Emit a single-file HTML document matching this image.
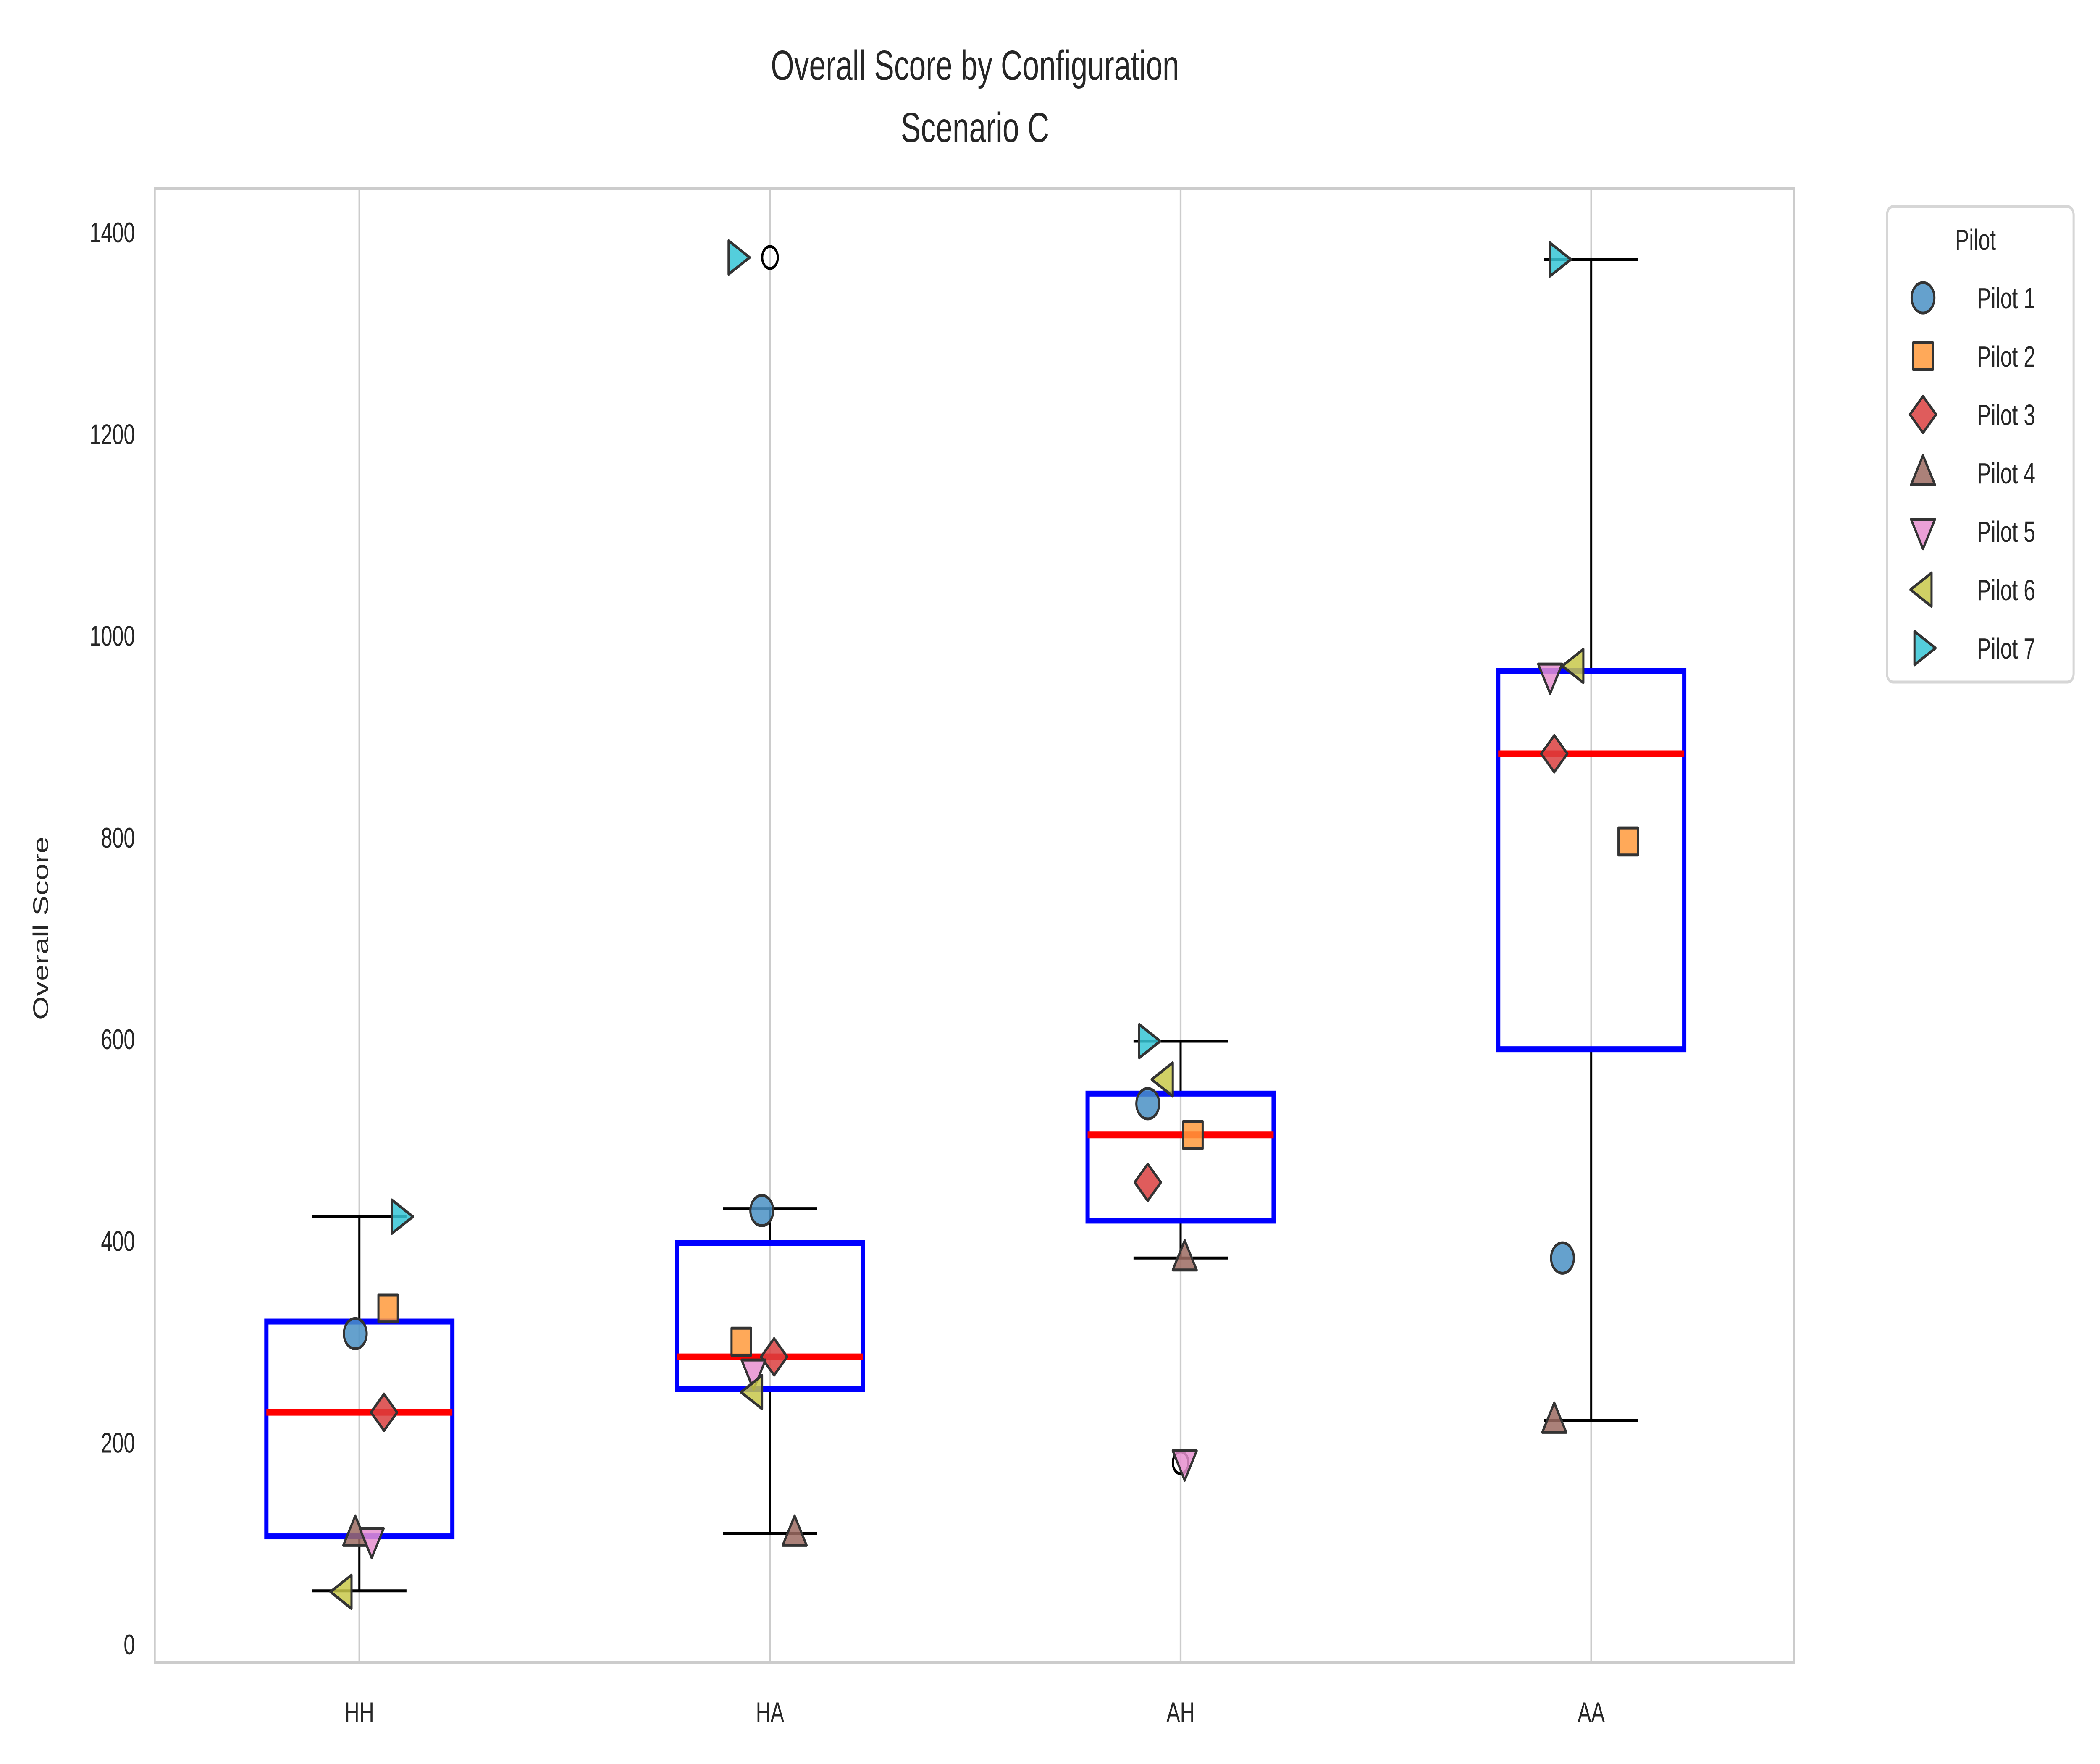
<!DOCTYPE html>
<html><head><meta charset="utf-8"><style>html,body{margin:0;padding:0;background:#fff;width:100%;height:100%;overflow:hidden}svg{display:block;width:100vw;height:100vh}text{font-family:"Liberation Sans",sans-serif;fill:#262626}</style></head>
<body>
<svg id="chart" viewBox="0 0 7000 4200" preserveAspectRatio="none" xmlns="http://www.w3.org/2000/svg">
<rect width="7000" height="4200" fill="#fff"/>
<text x="3250" y="190" font-size="100" text-anchor="middle">Overall Score by Configuration</text>
<text x="3250" y="338" font-size="100" text-anchor="middle">Scenario C</text>
<text transform="translate(160,2210) rotate(-90)" font-size="72" text-anchor="middle">Overall Score</text>
<g id="grid"></g><g id="boxes"></g><g id="points"></g><g id="axes"></g>
<g id="legend"></g>
</svg>
<script>
const categories = ["HH","HA","AH","AA"];
const whiskerLow = [53,110,383,222];
const q1 = [107,253,420,590];
const medians = [230,285,505,883];
const q3 = [320,398,546,965];
const whiskerHigh = [424,432,598,1373];
const outlierCat = [1,2];
const outlierVal = [1375,180];
const pilots = ["Pilot 1","Pilot 2","Pilot 3","Pilot 4","Pilot 5","Pilot 6","Pilot 7"];
// scores[pilot][category]
const scores = [
 [308,430,536,383],
 [333,300,505,796],
 [230,285,458,883],
 [110,110,383,222],
 [103,270,180,960],
 [52,250,560,970],
 [424,1375,598,1373]
];
// horizontal jitter in category units
const jitter = [
 [-0.01,-0.02,-0.08,-0.07],
 [0.07,-0.07,0.03,0.09],
 [0.06,0.01,-0.08,-0.09],
 [-0.01,0.06,0.01,-0.09],
 [0.03,-0.04,0.01,-0.1],
 [-0.04,-0.04,-0.04,-0.04],
 [0.1,-0.08,-0.08,-0.08]
];
const yTicks = [0,200,400,600,800,1000,1200,1400];
const colors = ["#4a90c4","#ff9a3c","#d94040","#9c6b61","#e68fcf","#c8c84a","#36c5d6"];
const shapes = ["circle","square","diamond","tri-up","tri-down","tri-left","tri-right"];

const L=516,R=5981,T=449,B=3958;
const y0px=3915, perUnit=(3915-553)/1400;
const yS=v=>y0px-v*perUnit;
const xS=i=>1198+i*1368.7;
const NS="http://www.w3.org/2000/svg";
function mk(tag,attrs,parent){const e=document.createElementNS(NS,tag);for(const k in attrs)e.setAttribute(k,attrs[k]);parent.appendChild(e);return e;}
const grid=document.getElementById('grid'),boxes=document.getElementById('boxes'),pts=document.getElementById('points'),axes=document.getElementById('axes'),leg=document.getElementById('legend');

categories.forEach((c,i)=>{
 const g=mk('line',{x1:xS(i),x2:xS(i),y1:T,y2:B,stroke:'#cccccc','stroke-width':6},grid);
 
 
 const t=mk('text',{x:xS(i),y:4100,'font-size':68,'text-anchor':'middle'},axes);
 t.textContent=c;
 
 
});
yTicks.forEach(v=>{
 const t=mk('text',{x:450,y:yS(v)+24,'font-size':68,'text-anchor':'end'},axes);
 t.textContent=v;
 
 
});
const frame=mk('rect',{x:L,y:T,width:R-L,height:B-T,fill:'none',stroke:'#cccccc','stroke-width':6},axes);



const hw=310,cap=157;
categories.forEach((c,i)=>{
 const x=xS(i);
 const g=mk('g',{},boxes);
 
 
 mk('line',{x1:x,x2:x,y1:yS(q3[i]),y2:yS(whiskerHigh[i]),stroke:'#000','stroke-width':7},g);
 mk('line',{x1:x,x2:x,y1:yS(q1[i]),y2:yS(whiskerLow[i]),stroke:'#000','stroke-width':7},g);
 mk('line',{x1:x-cap,x2:x+cap,y1:yS(whiskerHigh[i]),y2:yS(whiskerHigh[i]),stroke:'#000','stroke-width':7},g);
 mk('line',{x1:x-cap,x2:x+cap,y1:yS(whiskerLow[i]),y2:yS(whiskerLow[i]),stroke:'#000','stroke-width':7},g);
 mk('rect',{x:x-hw,y:yS(q3[i]),width:2*hw,height:yS(q1[i])-yS(q3[i]),fill:'none',stroke:'#0000ff','stroke-width':14},g);
 mk('line',{x1:x-hw,x2:x+hw,y1:yS(medians[i]),y2:yS(medians[i]),stroke:'#ff0000','stroke-width':16},g);
});
outlierCat.forEach((ci,k)=>{
 const o=mk('circle',{cx:xS(ci),cy:yS(outlierVal[k]),r:26,fill:'none',stroke:'#000','stroke-width':7},boxes);
 
 
});

function marker(shape,cx,cy,s,color,parent){
 const st={fill:color,'fill-opacity':0.85,stroke:'#333','stroke-width':7,'stroke-linejoin':'round'};
 let e;
 if(shape==='circle'){e=mk('ellipse',Object.assign({cx,cy,rx:s*1.0,ry:s*0.95},st),parent);}
 else if(shape==='square'){e=mk('rect',Object.assign({x:cx-s*0.85,y:cy-s*0.85,width:s*1.7,height:s*1.7},st),parent);}
 else {let p;
  if(shape==='diamond')p=[[cx,cy-s*1.15],[cx+s*1.15,cy],[cx,cy+s*1.15],[cx-s*1.15,cy]];
  if(shape==='tri-up')p=[[cx,cy-s*1.1],[cx+s*1.05,cy+s*0.75],[cx-s*1.05,cy+s*0.75]];
  if(shape==='tri-down')p=[[cx,cy+s*1.1],[cx+s*1.05,cy-s*0.75],[cx-s*1.05,cy-s*0.75]];
  if(shape==='tri-left')p=[[cx-s*1.1,cy],[cx+s*0.75,cy-s*1.05],[cx+s*0.75,cy+s*1.05]];
  if(shape==='tri-right')p=[[cx+s*1.1,cy],[cx-s*0.75,cy-s*1.05],[cx-s*0.75,cy+s*1.05]];
  e=mk('polygon',Object.assign({points:p.map(q=>q.join(',')).join(' ')},st),parent);}
 return e;
}
scores.forEach((row,p)=>{
 row.forEach((v,i)=>{
  const m=marker(shapes[p],xS(i+jitter[p][i]),yS(v),38,colors[p],pts);
  
  
 });
});

const lb=mk('rect',{x:6290,y:492,width:622,height:1132,rx:20,fill:'#fff',stroke:'#d6d6d6','stroke-width':7},leg);


const lt=mk('text',{x:6585,y:595,'font-size':70,'text-anchor':'middle'},leg);
lt.textContent='Pilot';


pilots.forEach((name,p)=>{
 const y=709+p*139;
 const g=mk('g',{},leg);
 
 
 marker(shapes[p],6410,y,38,colors[p],g);
 const t=mk('text',{x:6590,y:y+25,'font-size':70},g);
 t.textContent=name;
});
</script>
</body></html>
